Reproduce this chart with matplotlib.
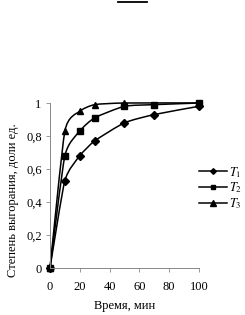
import matplotlib
matplotlib.use('Agg')
import numpy as np
import matplotlib.pyplot as plt
from matplotlib.lines import Line2D
from matplotlib.path import Path
from matplotlib.patches import PathPatch

plt.rcParams['font.family'] = ['Liberation Serif', 'DejaVu Serif']
plt.rcParams['mathtext.fontset'] = 'stix'

# данные
t1_x = [0, 10, 20, 30, 50, 70, 100]
t1_y = [0, 0.53, 0.68, 0.77, 0.88, 0.93, 0.98]
t2_x = [0, 10, 20, 30, 50, 70, 100]
t2_y = [0, 0.68, 0.83, 0.91, 0.98, 0.99, 1.0]
t3_x = [0, 10, 20, 30, 50, 100]
t3_y = [0, 0.83, 0.95, 0.99, 1.0, 1.0]
x_ticks = [0, 20, 40, 60, 80, 100]
y_ticks = [0, 0.2, 0.4, 0.6, 0.8, 1.0]
y_labels = ['0', '0,2', '0,4', '0,6', '0,8', '1']


def smooth_path(x, y, k=0.1):
    # сглаженная линия как в Excel (кривые Безье через точки)
    p = np.column_stack([x, y]).astype(float)
    verts = [p[0]]
    codes = [Path.MOVETO]
    n = len(p)
    for i in range(n - 1):
        p0 = p[i - 1] if i > 0 else p[i]
        p3 = p[i + 2] if i + 2 < n else p[i + 1]
        c1 = p[i] + (p[i + 1] - p0) * k
        c2 = p[i + 1] - (p3 - p[i]) * k
        verts += [c1, c2, p[i + 1]]
        codes += [Path.CURVE4] * 3
    return Path(verts, codes)


fig = plt.figure(figsize=(2.45, 3.15), dpi=100)
ax = fig.add_axes([0.204, 0.149, 0.608, 0.524])

series = [(t1_x, t1_y, 'D', 3.6, '$T_1$'),
          (t2_x, t2_y, 's', 4.4, '$T_2$'),
          (t3_x, t3_y, '^', 4.8, '$T_3$')]
handles = []
for xs, ys, m, ms, lab in series:
    ax.add_patch(PathPatch(smooth_path(xs, ys), fill=False, edgecolor='black', lw=1.1, clip_on=False))
    ax.plot(xs, ys, ls='none', color='black', marker=m, ms=ms, clip_on=False)
    handles.append(Line2D([], [], color='black', lw=1.1, marker=m, ms=ms * 0.8, label=lab))

ax.set_xlim(0, 100)
ax.set_ylim(0, 1)
ax.set_xticks(x_ticks)
ax.set_yticks(y_ticks)
ax.set_yticklabels(y_labels)
ax.tick_params(labelsize=9, length=3, width=0.6, color='#888888', pad=3)
ax.tick_params(axis='x', pad=6)
for s in ['top', 'right']:
    ax.spines[s].set_visible(False)
for s in ['left', 'bottom']:
    ax.spines[s].set_color('#888888')
    ax.spines[s].set_linewidth(0.7)

ax.set_xlabel('Время, мин', fontsize=9, labelpad=5)
ax.set_ylabel('Степень выгорания, доли ед.', fontsize=9)
ax.yaxis.set_label_coords(-0.21, 0.41)

ax.legend(handles=handles, loc='center left', bbox_to_anchor=(0.96, 0.485), frameon=False, fontsize=9,
          handlelength=2.2, handletextpad=0.2, labelspacing=0.08, borderpad=0)

# черточка сверху
fig.add_artist(Line2D([118 / 245, 147 / 245], [1 - 1.5 / 315, 1 - 1.5 / 315], color='black', lw=1.3))

fig.savefig('out.png', dpi=100)
